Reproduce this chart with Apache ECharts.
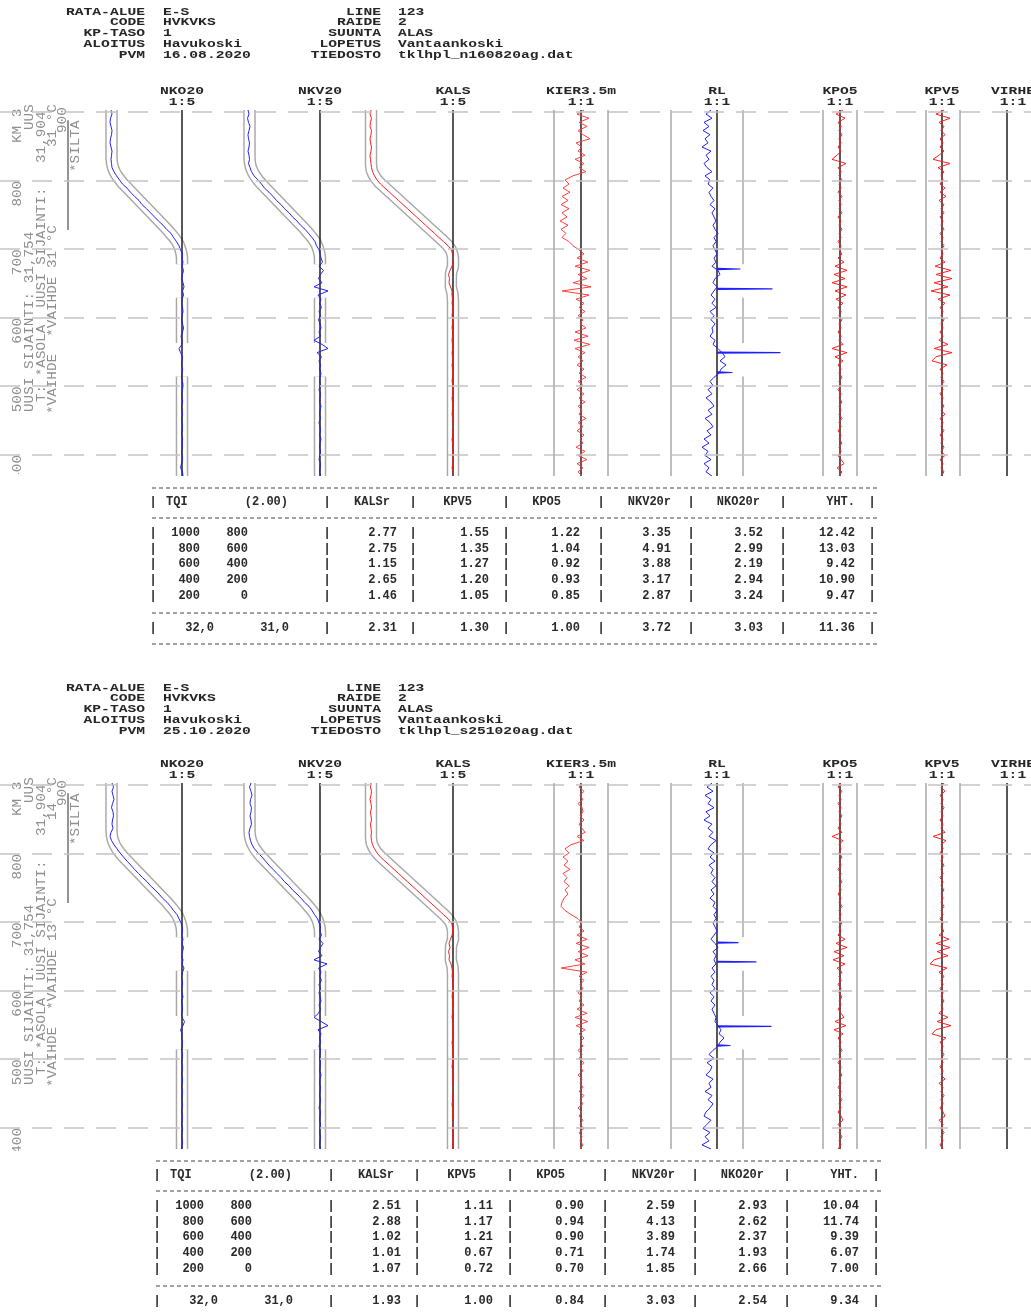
<!DOCTYPE html>
<html><head><meta charset="utf-8">
<script src="https://cdn.jsdelivr.net/npm/echarts@6/dist/echarts.min.js"></script>
<style>html,body{margin:0;padding:0;background:#fff;}#c{width:1031px;height:1316px;}</style>
</head><body><div id="c"></div>
<script>
// ================= DATA =================
// measuring stations along the track (m within km 31)
const stations = [903,897,891,885,879,873,867,861,855,849,843,837,831,825,819,813,807,801,795,789,
783,777,771,765,759,753,747,741,735,729,723,717,711,705,699,693,687,681,675,669,
663,657,651,645,639,633,627,621,615,609,603,597,591,585,579,573,567,561,555,549,
543,537,531,525,519,513,507,501,495,489,483,477,471,465,459,453,447,441,435,429,
423,417,411,405,399,393,387,381,375,369];
const kmLines = [900,800,700,600,500,400];
const kmTickLabels = [800,700,600,500,400];
const siltaRange = [888,728];

// nominal geometry corridors [distance, offset]
const nkCorridorSegs = [
 [[903,-70.5],[833,-70.5],[825,-70],[819,-69],[813,-67.3],[807,-65],[801,-62],[795,-58.5],[729,-15],[723,-11.5],[717,-8],[711,-5],[705,-3],[699,-1.5],[693,-0.5],[687,0],[678,0]],
 [[629,0],[563,0]],
 [[514,0],[369,0]]
];
const kalsCorridorSegs = [
 [[903,-82],[823,-82],[815,-81.3],[809,-79.5],[803,-77],[797,-73.5],[711,-9],[705,-5],[699,-2.2],[693,-0.7],[687,0],[675,0],[665,-2],[645,-2.2],[635,-0.5],[625,0],[369,0]]
];
const kierLimits = [-27,27,90];
const rlLimit = 26;
const rlLimitSegs = [[903,678],[629,563],[514,369]];
const kpo5Limits = [-17,17];
const kpv5Limits = [-16,18];

// ---- panel 1 (16.08.2020) ----
const nko20P1 = [-71,-70,-71.5,-72,-71,-70,-70.5,-71.5,-72,-71, -70,-70.5,-71,-70.5,-70,-68,-65.5,-62.5,-59.5,-55, -51.5,-47.5,-43,-40,-35.5,-31.5,-27.5,-23.5,-19,-15.5, -11,-8.5,-5.5,-3,-1.5,0.5,0,1,0,1.5, 0.5,-0.5,1,2,0.5,1.5,0,-0.5,0.5,1, 0,-0.5,0.5,1.5,0.5,-1,0,0,-3,-1.5, 0.5,0,-0.5,0.5,0,-0.5,0.5,1,0.5,-0.5, 0,0.5,-0.5,0,0.5,-0.5,0,0.5,0,-0.5, 0.5,0,0.5,-0.5,0,0.5,-0.5,-1.5,0.5,1];
const nkv20P1 = [-72,-71,-72.5,-71.5,-70,-71,-72,-71.5,-70.5,-71, -72,-71,-70.5,-71.5,-70,-68.5,-66,-62,-58.5,-55.5, -51,-47,-43.5,-39,-35.5,-31,-27.5,-23,-19.5,-15, -11.5,-8,-5,-3.5,-1,0,1,2.5,-1,3.5, 0.5,-1.5,2,-6,8,-2,1,-0.5,1.5,-1, 0.5,-1.5,0,1,-1,0.5,-6,2,8,-3, 1.5,-1,0.5,-0.5,1,0,-0.5,0.5,-1,0.5, 0,-0.5,1,0,-0.5,0.5,-1,0,0.5,-0.5, 1,0,-0.5,0.5,0,-1,0.5,0,-0.5,0.5];
const kalsP1 = [-82,-83,-81.5,-82.5,-83,-81.5,-82,-83,-82.5,-81.5, -82,-83,-82.5,-82,-81.5,-80.5,-78.5,-76,-72.5,-68, -63.5,-59,-54.5,-50,-45.5,-41,-36.5,-32,-27.5,-23, -18.5,-14,-9.5,-5,-1.5,-0.5,0.5,0,-1,-3, -4.5,-3.5,-4,-2.5,-1,-1,-0.5,-1,0,-0.5, -1,0,-0.5,-1,0,-0.5,-1,-0.5,0,-1, -0.5,0,-1,-0.5,0,-0.5,-1,0,-0.5,0, -1,-0.5,0,-0.5,-1,0,-0.5,0.5,-0.5,0, -1,-0.5,0,-0.5,0.5,-0.5,0,-1,0,0.5];
const kierP1 = [3,-4,8,-2,6,-3,2,9,-5,1, -3,4,-6,3,-2,5,-8,-16,-12,-18, -11,-19,-13,-20,-12,-19,-14,-21,-13,-20, -15,-19,-12,-8,-2,3,-4,7,-6,9, -3,6,-8,10,-19,8,-5,3,-2,4, -3,2,-1,5,-6,7,-7,9,-6,4, -3,2,-4,3,-2,5,-3,2,-4,3, -2,4,-3,1,-2,5,-3,2,-4,3, -1,2,-5,4,-3,6,-4,2,-3,1];
const rlP1 = [-6,-11,-5,-13,-8,-14,-7,-12,-9,-15, -6,-11,-8,-13,-10,-5,-12,-7,-9,-4, -8,-6,-3,-7,-2,-5,-3,-1,-4,-2, 1,-3,-1,-4,-2,0,-3,-1,-5,1, 3,-2,-4,0,-3,-6,-2,-5,-1,-7, -3,-6,-2,-5,-4,-7,-2,-4,1,5, 8,3,9,4,2,-3,-7,-4,-9,-5, -11,-6,-3,-9,-5,-12,-7,-4,-10,-6, -13,-8,-15,-9,-12,-6,-13,-8,-11,-5];
const rlSpikesP1 = [[671,23],[642,55],[549,63],[520,15]];
const kpo5P1 = [3,-4,5,-2,1,-1,2,-1,1,-2, 1,-3,-8,6,-2,1,-1,2,-1,1, -2,2,-1,1,-1,2,-2,1,-1,2, -1,1,-2,1,-1,2,-2,4,-5,7, -6,5,-8,7,-5,6,-4,3,-2,1, -1,2,-1,1,-2,1,-1,3,-8,7, -5,3,-2,1,-1,2,-1,1,-2,1, -1,2,-1,1,-1,2,-1,1,-2,1, -1,2,-1,1,-2,1,4,-3,2,-1];
const kpv5P1 = [2,-6,8,-3,2,-1,3,-2,1,-2, 2,-3,-9,8,-4,2,-1,1,-2,3, -2,4,-3,2,-1,2,-2,1,-1,2, -2,1,-1,2,-1,1,-2,3,-7,9, -6,10,-8,6,-11,8,-4,3,-2,1, -1,2,-1,1,-2,1,-3,6,-8,10, -6,-10,5,-2,1,-1,2,-1,1,-2, 1,-1,2,-1,3,-2,1,-1,2,-2, 1,-1,2,-1,3,-2,1,-1,2,-1];

// ---- panel 2 (25.10.2020) ----
const nko20P2 = [-70,-68.5,-70,-69,-68,-69.5,-70.5,-69,-68.5,-69.5, -70,-69,-71,-72,-70.5,-68,-65,-62,-58.5,-55, -51,-47.5,-43.5,-39.5,-35,-31.5,-27,-23,-19.5,-15, -11.5,-8.5,-5,-3,-1,0,0.5,-0.5,1,0, 1.5,0.5,-0.5,1,0,2,0.5,-0.5,0,0.5, -0.5,0,1,-0.5,0,0.5,-0.5,0,2.5,1, -1.5,0,-0.5,0.5,0,-0.5,0.5,0,-0.5,0.5, 0,-0.5,0.5,0,-0.5,0.5,0,-0.5,0.5,0, -0.5,0.5,0,-0.5,0.5,0,-0.5,0.5,0,-0.5];
const nkv20P2 = [-69,-70.5,-69,-68,-69.5,-70,-68.5,-69,-70,-69, -68.5,-70,-71,-70.5,-69.5,-68,-65.5,-62,-58,-54.5, -51,-47,-43,-39,-35.5,-31,-27.5,-23,-19,-15.5, -11,-8,-5.5,-2.5,-1,0.5,0,1.5,-1,3, 0.5,-1.5,2,-6,7,-1.5,1,-0.5,1.5,-1, 0.5,-1,0,1,-1,0.5,-1.5,-6,1,8, -2,1,-0.5,0.5,-1,0.5,0,-0.5,0.5,0, -0.5,1,0,-0.5,0.5,0,-0.5,0.5,0,-1, 0.5,0,-0.5,0.5,0,-0.5,0.5,0,-0.5,0.5];
const kalsP2 = [-82,-82.5,-81.5,-82,-83,-82,-81.5,-82.5,-82,-81.5, -82.5,-82,-81.5,-82,-81.5,-80.5,-78.5,-76,-72.5,-68, -63.5,-59,-54.5,-50,-45.5,-41,-36.5,-32,-27.5,-23, -18.5,-14,-9.5,-5,-1.5,-0.5,0,-1,-2.5,-4, -3,-4.5,-3.5,-4,-2,-1,-0.5,-1,0,-0.5, 0,-0.5,-1,0,-0.5,0,-0.5,-1,0,-0.5, 0,-0.5,0,-1,-0.5,0,-0.5,0,-0.5,-1, 0,-0.5,0,-0.5,0.5,0,-0.5,0,-1,-0.5, 0,-0.5,0,0.5,-0.5,0,-0.5,0,-0.5,0];
const kierP2 = [1,-2,3,-1,2,-3,1,2,-1,3, -2,1,4,-4,3,-10,-16,-12,-18,-13, -17,-11,-18,-14,-17,-12,-16,-13,-17,-19, -20,-16,-10,-3,1,-2,3,-4,6,-5, 8,-3,7,-6,4,-20,6,-2,3,-1, 2,-3,1,-2,3,-4,6,-6,7,-5, 4,-2,3,-1,2,-3,1,-2,3,-1, 2,-3,1,-1,2,-2,3,-1,2,-3, 1,-2,2,-1,3,-2,1,-1,2,-1];
const rlP2 = [-5,-10,-4,-12,-6,-9,-3,-11,-7,-13, -5,-9,-4,-8,-1,-6,-9,-3,-7,-2, -8,-4,-6,-2,-5,-1,-6,-3,-7,-2, -4,0,-3,-1,-4,-2,0,-3,-6,-2, 1,-4,-1,-3,-1,-5,-2,-6,-3,-5, -2,-7,-3,-6,-2,-5,-3,-1,-2,1, 4,2,7,3,1,-4,-8,-3,-10,-5, -7,-11,-4,-8,-6,-12,-5,-9,-4,-7, -11,-13,-6,-10,-14,-7,-12,-8,-15,-6];
const rlSpikesP2 = [[670,21],[642,39],[548,54],[520,13]];
const kpo5P2 = [1,-2,2,-1,1,-2,1,-1,2,-1, 1,-2,2,-8,3,-1,1,-1,2,-1, 1,-2,1,-1,2,-1,1,-2,1,-1, 2,-1,1,-1,2,-1,1,-2,5,-4, 7,-6,4,-7,5,-3,2,-1,1,-2, 1,-1,2,-1,1,-2,1,4,-5,6, -6,3,-2,1,-1,2,-1,1,-2,1, -1,2,-1,1,-2,1,-1,2,-1,1, -2,1,3,-2,1,-1,2,-1,1,-2];
const kpv5P2 = [2,-1,3,-2,1,-1,2,-1,1,-2, 1,-1,3,-9,4,-1,1,-2,1,-1, 2,-1,1,-2,1,-1,2,-1,1,-1, 2,-1,1,-2,1,-1,2,-3,7,-6, 8,-5,6,-8,-12,5,-3,2,-1,1, -2,1,-1,2,-1,1,-3,6,-5,9, -6,-10,4,-2,1,-1,2,-1,1,-2, 1,-1,3,-3,1,-1,2,-1,1,-2, 1,3,-3,1,-1,2,-1,1,-2,1];

// ---- header info ----
const headerLeftLabels = ['RATA-ALUE','CODE','KP-TASO','ALOITUS','PVM'];
const headerRightLabels = ['LINE','RAIDE','SUUNTA','LOPETUS','TIEDOSTO'];
const headerLeftP1 = ['E-S','HVKVKS','1','Havukoski','16.08.2020'];
const headerRightP1 = ['123','2','ALAS','Vantaankoski','tklhpl_n160820ag.dat'];
const headerLeftP2 = ['E-S','HVKVKS','1','Havukoski','25.10.2020'];
const headerRightP2 = ['123','2','ALAS','Vantaankoski','tklhpl_s251020ag.dat'];

// ---- left side notes (rotated) ----
const leftNotesP1 = ['KM 3','UUS','UUSI SIJAINTI: 31,754','31,904','T: *ASOLA  UUSI SIJAINTI:','31 °C','*VAIHDE  *VAIHDE 31 °C','900','*SILTA'];
const leftNotesP2 = ['KM 3','UUS','UUSI SIJAINTI: 31,754','31,904','T: *ASOLA  UUSI SIJAINTI:','14 °C','*VAIHDE  *VAIHDE 13 °C','900','*SILTA'];

// ---- TQI tables ----
const tqiLimit = 2.00;
const tqiCols = ['KALSr','KPV5','KPO5','NKV20r','NKO20r','YHT.'];
const tqiRanges = [[1000,800],[800,600],[600,400],[400,200],[200,0]];
const tqiP1 = [[2.77,1.55,1.22,3.35,3.52,12.42],[2.75,1.35,1.04,4.91,2.99,13.03],[1.15,1.27,0.92,3.88,2.19,9.42],[2.65,1.20,0.93,3.17,2.94,10.90],[1.46,1.05,0.85,2.87,3.24,9.47]];
const tqiTotalP1 = ['32,0','31,0',2.31,1.30,1.00,3.72,3.03,11.36];
const tqiP2 = [[2.51,1.11,0.90,2.59,2.93,10.04],[2.88,1.17,0.94,4.13,2.62,11.74],[1.02,1.21,0.90,3.89,2.37,9.39],[1.01,0.67,0.71,1.74,1.93,6.07],[1.07,0.72,0.70,1.85,2.66,7.00]];
const tqiTotalP2 = ['32,0','31,0',1.93,1.00,0.84,3.03,2.54,9.34];

// ================= LAYOUT / STYLE =================
const MONO = '"Liberation Mono","DejaVu Sans Mono",monospace';
const DMIN = 369, DMAX = 903, TOP = 110, H = 366;
const tracks = [
 {name:'NKO20', scale:'1:5', cx:182, hw:100, color:'#2020ff', corridor:nkCorridorSegs},
 {name:'NKV20', scale:'1:5', cx:320, hw:100, color:'#2020ff', corridor:nkCorridorSegs},
 {name:'KALS', scale:'1:5', cx:453, hw:100, color:'#ff1a1a', corridor:kalsCorridorSegs},
 {name:'KIER3.5m', scale:'1:1', cx:581, hw:100, color:'#ff4040', limits:kierLimits},
 {name:'RL', scale:'1:1', cx:717, hw:80, color:'#2020ff', gapLimit:true},
 {name:'KPO5', scale:'1:1', cx:840, hw:40, color:'#ff2020', limits:kpo5Limits},
 {name:'KPV5', scale:'1:1', cx:942, hw:40, color:'#ff2020', limits:kpv5Limits},
 {name:'VIRHE', scale:'1:1', cx:1013, hw:30}
];
const panels = [
 {oy:0, hy:0, tx:0, mask:474, traces:[nko20P1,nkv20P1,kalsP1,kierP1,rlP1,kpo5P1,kpv5P1,null], spikes:rlSpikesP1,
  hl:headerLeftP1, hr:headerRightP1, notes:leftNotesP1, tqi:tqiP1, total:tqiTotalP1},
 {oy:673, hy:676, tx:4, mask:1151, traces:[nko20P2,nkv20P2,kalsP2,kierP2,rlP2,kpo5P2,kpv5P2,null], spikes:rlSpikesP2,
  hl:headerLeftP2, hr:headerRightP2, notes:leftNotesP2, tqi:tqiP2, total:tqiTotalP2}
];
const notePos = [[18,143],[30,130],[30,412],[42,163],[42,402],[53,147],[53,414],[63,133],[76,172]];

const grids = [], xAxes = [], yAxes = [], series = [];
function addGrid(left, width, top, xmin, xmax) {
  grids.push({left, width, top, height:H});
  const gi = grids.length - 1;
  xAxes.push({type:'value', gridIndex:gi, min:xmin, max:xmax, show:false});
  yAxes.push({type:'value', gridIndex:gi, min:DMIN, max:DMAX, show:false});
  return gi;
}
function lineS(gi, data, color, width, z, extra) {
  return Object.assign({type:'line', xAxisIndex:gi, yAxisIndex:gi, data, symbol:'none', showSymbol:false,
    silent:true, z, animation:false, lineStyle:{color, width, cap:'butt', join:'round'}}, extra || {});
}

panels.forEach(P => {
  const top = TOP + P.oy;
  P.bg = addGrid(0, 1031, top, 0, 1);
  series.push(lineS(P.bg, [[0, DMAX]], '#fff', 0, 0, {
    markLine:{silent:true, symbol:['none','none'], label:{show:false}, animation:false,
      lineStyle:{type:[20,12], color:'#c4c4c4', width:1.5},
      data: kmLines.map(v => ({yAxis:v}))}
  }));
  tracks.forEach((t, k) => {
    const gi = addGrid(t.cx - t.hw, 2 * t.hw, top, -t.hw, t.hw);
    if (t.corridor) {
      t.corridor.forEach(seg => {
        const d = seg.map(([dist, off]) => [off, dist]);
        series.push(lineS(gi, d, '#a8a8a8', 12.5, 1));
        series.push(lineS(gi, d, '#ffffff', 9.6, 2));
      });
    }
    if (t.gapLimit) {
      rlLimitSegs.forEach(([a, b]) => series.push(lineS(gi, [[rlLimit, a], [rlLimit, b]], '#a8a8a8', 1.5, 2)));
    }
    const extra = t.limits ? {markLine:{silent:true, symbol:['none','none'], label:{show:false}, animation:false,
      lineStyle:{type:'solid', color:'#a8a8a8', width:1.5}, data:t.limits.map(v => ({xAxis:v}))}} : {};
    series.push(lineS(gi, [[0, DMAX], [0, DMIN]], '#111', 1.4, 3, extra));
    const vals = P.traces[k];
    if (vals) {
      series.push(lineS(gi, stations.map((d, i) => [vals[i], d]), t.color, 1, 4));
    }
    if (t.gapLimit) {
      P.spikes.forEach(([d, v]) => series.push(lineS(gi, [[0, d + 0.8], [v, d], [0, d - 0.8]], t.color, 1.2, 4)));
    }
  });
});

const chart = echarts.init(document.getElementById('c'), null, {renderer:'canvas', width:1031, height:1316});
chart.setOption({animation:false, grid:grids, xAxis:xAxes, yAxis:yAxes, series});

// ================= TEXT GRAPHICS =================
const els = [];
const HDR_FONT = 'bold 11px ' + MONO;
function htext(x, y, text, align) {
  return {type:'text', x, y, scaleX:1.33, silent:true, style:{text, font:HDR_FONT, fill:'#262626', align, verticalAlign:'middle'}};
}
function vtext(x, y, text) {
  return {type:'text', x, y, rotation:Math.PI / 2, scaleX:1.1, silent:true,
    style:{text, font:'13px ' + MONO, fill:'#8f8f8f', align:'left', verticalAlign:'middle'}};
}
const TBL_FONT = 'bold 12px ' + MONO;
function ttext(x, y, text, align) {
  return {type:'text', x, y, silent:true, style:{text, font:TBL_FONT, fill:'#2a2a2a', align, verticalAlign:'middle'}};
}
const hdrRowY = [12, 22.5, 33, 44, 55];
const sepX = [153,327,413,506,601,691,783,872];
const colHeadRight = [390,472,561,671,760,855];
const colValRight = [397,489,580,671,763,855];

panels.forEach(P => {
  hdrRowY.forEach((y, r) => {
    els.push(htext(145, y + P.hy, headerLeftLabels[r], 'right'));
    els.push(htext(163, y + P.hy, P.hl[r], 'left'));
    els.push(htext(381, y + P.hy, headerRightLabels[r], 'right'));
    els.push(htext(398, y + P.hy, P.hr[r], 'left'));
  });
  tracks.forEach(t => {
    els.push(htext(t.cx, 91 + P.oy, t.name, 'center'));
    els.push(htext(t.cx, 102 + P.oy, t.scale, 'center'));
  });
  kmTickLabels.forEach(v => {
    const pt = chart.convertToPixel({gridIndex:P.bg}, [0, v]);
    els.push(vtext(18, pt[1] + 26, String(v)));
  });
  P.notes.forEach((s, i) => els.push(vtext(notePos[i][0], notePos[i][1] + P.oy, s)));
  const s0 = chart.convertToPixel({gridIndex:P.bg}, [0, siltaRange[0]]);
  const s1 = chart.convertToPixel({gridIndex:P.bg}, [0, siltaRange[1]]);
  els.push({type:'line', silent:true, shape:{x1:68, y1:s0[1], x2:68, y2:s1[1]}, style:{stroke:'#707070', lineWidth:1.5}});
  els.push({type:'rect', silent:true, shape:{x:0, y:P.mask, width:110, height:12}, style:{fill:'#fff'}});

  // table
  const tx = P.tx, ty = P.oy;
  [488,518,613,644].forEach(y => els.push({type:'line', silent:true,
    shape:{x1:152 + tx, y1:y + ty, x2:877 + tx, y2:y + ty}, style:{stroke:'#444', lineWidth:1, lineDash:[4,3]}}));
  const rowY = [502,533,549,564,580,596,628];
  rowY.forEach(y => sepX.forEach(x => els.push(ttext(x + tx, y + ty, '|', 'center'))));
  els.push(ttext(166 + tx, 502 + ty, 'TQI', 'left'));
  els.push(ttext(288 + tx, 502 + ty, '(' + tqiLimit.toFixed(2) + ')', 'right'));
  tqiCols.forEach((c, j) => els.push(ttext(colHeadRight[j] + tx, 502 + ty, c, 'right')));
  P.tqi.forEach((row, r) => {
    const y = rowY[r + 1] + ty;
    els.push(ttext(200 + tx, y, String(tqiRanges[r][0]), 'right'));
    els.push(ttext(248 + tx, y, String(tqiRanges[r][1]), 'right'));
    row.forEach((v, j) => els.push(ttext(colValRight[j] + tx, y, v.toFixed(2), 'right')));
  });
  const ty2 = 628 + ty;
  els.push(ttext(214 + tx, ty2, P.total[0], 'right'));
  els.push(ttext(289 + tx, ty2, P.total[1], 'right'));
  P.total.slice(2).forEach((v, j) => els.push(ttext(colValRight[j] + tx, ty2, v.toFixed(2), 'right')));
});
chart.setOption({graphic:{elements:els}});
</script>
</body></html>
